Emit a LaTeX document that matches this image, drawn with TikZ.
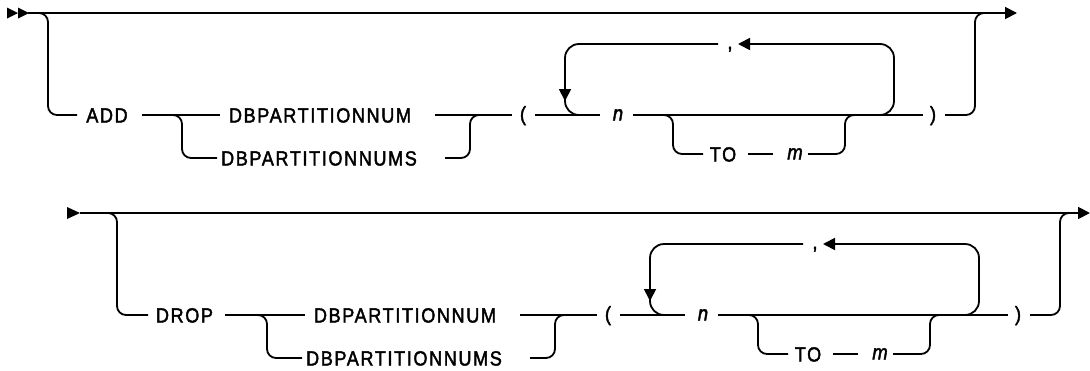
\documentclass[tikz,border=0pt]{standalone}
\usepackage{fontspec}
\setmainfont{Liberation Sans}[LetterSpace=8,FakeBold=2,FakeStretch=0.88]
\usetikzlibrary{arrows.meta}
\newcommand{\railtail}[1]{%
  \draw[rail] (172,115) -- (182,115) -- (182,158) -- (217,158);
  \node[kw] (dbpn#1) at (320,122.5) {DBPARTITIONNUM};
  \node[kw] (dbpns#1) at (319,165.5) {DBPARTITIONNUMS};
  \draw[rail] (435,115) -- (512,115);
  \draw[rail] (445,158) -- (470,158) -- (470,115) -- (482,115);
  \node[kw] (lp#1) at (523,121) {(};
  \draw[rail] (535,115) -- (600,115);
  \node[var] (n#1) at (618,120.5) {n};
  \draw[rail] (633,115) -- (923,115);
  \draw[loop] (718,44) -- (565,44) -- (565,115) -- (592,115);
  \draw[plain,tip] (565,84) -- (565,101);
  \node[kw] (cm#1) at (730,49) {,};
  \draw[loop] (866,115) -- (894,115) -- (894,44) -- (750,44);
  \draw[plain,tip] (752,44) -- (738,44);
  \draw[rail] (655,115) -- (673,115) -- (673,154) -- (703,154);
  \node[kw] (to#1) at (723,161.5) {TO};
  \draw[rail] (748,154) -- (773,154);
  \node[var] (m#1) at (795,159.5) {m};
  \draw[rail] (808,154) -- (845,154) -- (845,115) -- (857,115);
  \node[kw] (rp#1) at (933,121) {)};
  \draw[rail] (945,115) -- (975,115) -- (975,13) -- (987,13);
}
\begin{document}
\begin{tikzpicture}[x=1pt,y=-1pt,
  plain/.style={line width=1.8pt},
  rail/.style={line width=1.8pt, rounded corners=9pt},
  loop/.style={line width=1.8pt, rounded corners=14pt},
  tip/.style={-{Triangle[length=12pt,width=12pt]}},
  kw/.style={font=\fontsize{20.5}{24}\selectfont, inner sep=0pt, anchor=base},
  var/.style={kw, font=\fontsize{21}{24}\selectfont\itshape}]
\useasboundingbox (0,0) rectangle (1090,370);
% row 1
\fill (7,7.5) -- (18,13) -- (7,18.5) -- cycle;
\fill (18,7.5) -- (29,13) -- (18,18.5) -- cycle;
\draw[plain] (28,13) -- (1008,13);
\draw[plain,tip] (1000,13) -- (1017,13);
\draw[rail] (30,13) -- (48,13) -- (48,115) -- (77,115);
\node[kw] (add) at (107,122.5) {ADD};
\draw[rail] (142,115) -- (220,115);
\railtail{a}
% row 2
\fill (67,207) -- (80,213) -- (67,219) -- cycle;
\draw[plain] (80,213) -- (1080,213);
\draw[plain,tip] (1072,213) -- (1090,213);
\draw[rail] (98,213) -- (117,213) -- (117,315) -- (148,315);
\node[kw] (drop) at (184.5,322.5) {DROP};
\draw[rail] (225,315) -- (305,315);
\begin{scope}[shift={(85,200)}]
\railtail{b}
\end{scope}
\end{tikzpicture}
\end{document}
